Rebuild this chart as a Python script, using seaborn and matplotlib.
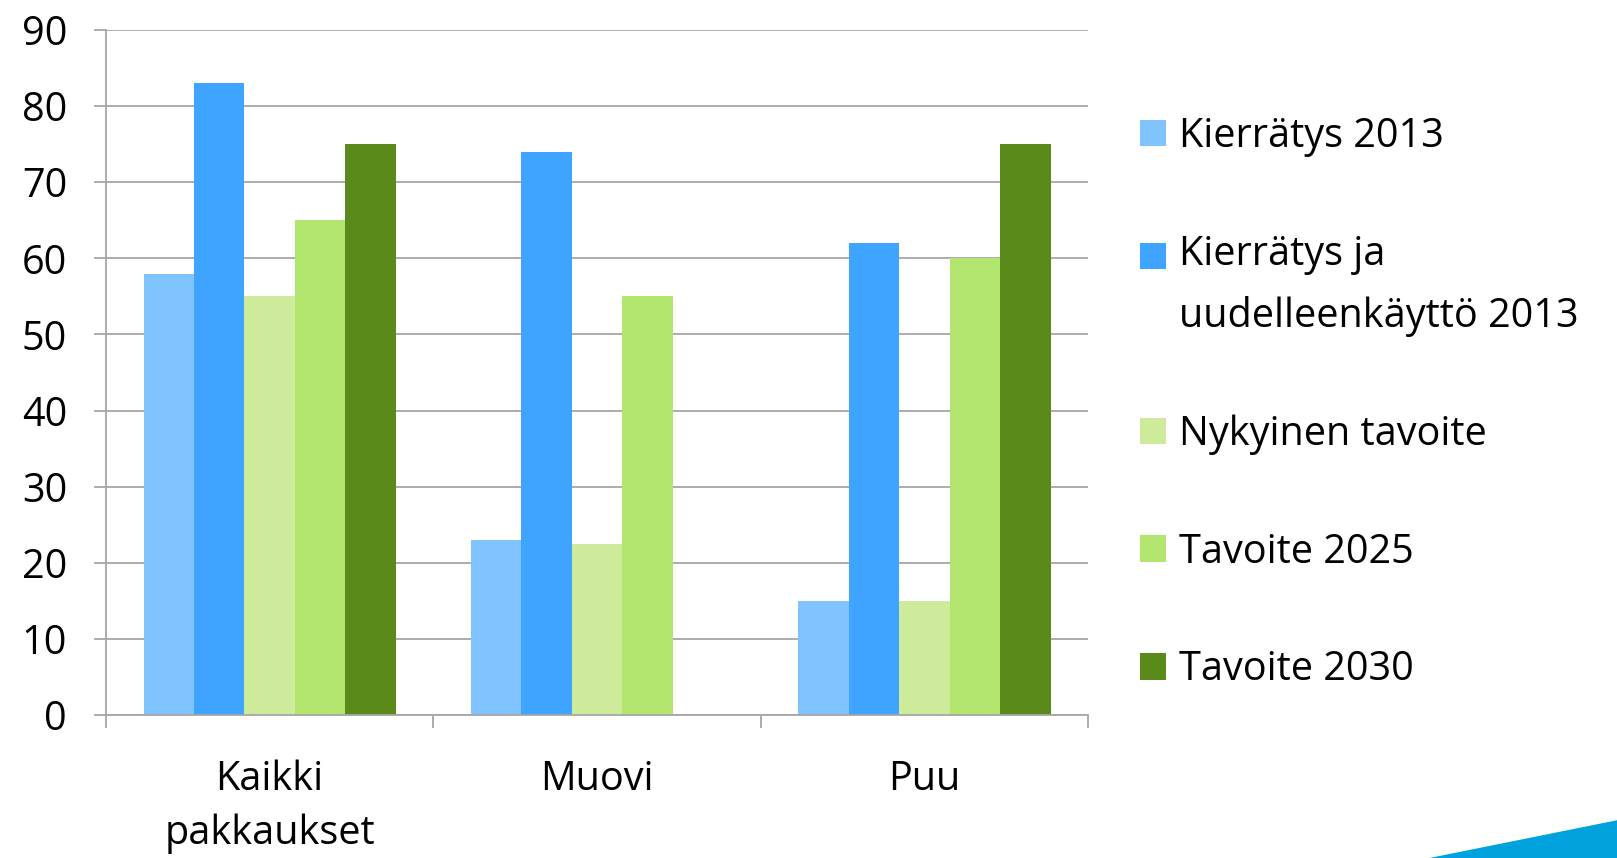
import numpy as np
import pandas as pd
import seaborn as sns
import matplotlib.pyplot as plt
from matplotlib.patches import Polygon

# Data
categories = ['Kaikki\npakkaukset', 'Muovi', 'Puu']
series = ['Kierrätys 2013', 'Kierrätys ja\nuudelleenkäyttö 2013',
          'Nykyinen tavoite', 'Tavoite 2025', 'Tavoite 2030']
kierratys_2013 = [58, 23, 15]
kierratys_uudelleen_2013 = [83, 74, 62]
nykyinen_tavoite = [55, 22.5, 15]
tavoite_2025 = [65, 55, 60]
tavoite_2030 = [75, np.nan, 75]
yticks = list(range(0, 100, 10))

colors = ['#7fc3ff', '#3fa4ff', '#cdeb9b', '#b1e56d', '#5a8b1a']

rows = []
for s, vals in zip(series, [kierratys_2013, kierratys_uudelleen_2013,
                            nykyinen_tavoite, tavoite_2025, tavoite_2030]):
    for c, v in zip(categories, vals):
        rows.append({'Kategoria': c, 'Sarja': s, 'Arvo': v})
df = pd.DataFrame(rows)

sns.set_theme(style="white")
plt.rcParams['font.family'] = ['Open Sans', 'DejaVu Sans']
plt.rcParams['text.color'] = 'black'

fs = 28.5

fig = plt.figure(figsize=(16.17, 8.58), dpi=100)
ax = fig.add_axes([0.0655, 0.1667, 0.6075, 0.7983])

sns.barplot(data=df, x='Kategoria', y='Arvo', hue='Sarja', order=categories,
            hue_order=series, palette=colors, width=0.77, gap=0,
            saturation=1, linewidth=0, ax=ax)

ax.set_xlim(-0.5, 2.5)
ax.set_ylim(0, 90)
ax.set_yticks(yticks)
ax.set_xlabel('')
ax.set_ylabel('')
ax.yaxis.grid(True, color='#a6a6a6', linewidth=1.3)
ax.set_axisbelow(True)
for side in ['top', 'right']:
    ax.spines[side].set_visible(False)
for side in ['left', 'bottom']:
    ax.spines[side].set_color('#a6a6a6')
    ax.spines[side].set_linewidth(1.3)

ax.tick_params(axis='y', which='major', length=9, width=1.3, color='#a6a6a6',
               labelcolor='black', labelsize=fs, pad=19, left=True)
ax.tick_params(axis='x', which='major', length=0, labelcolor='black',
               labelsize=fs, pad=32)
ax.set_xticks([-0.5, 0.5, 1.5, 2.5], minor=True)
ax.tick_params(axis='x', which='minor', length=9, width=1.3, color='#a6a6a6',
               bottom=True)
for lab in ax.get_xticklabels():
    lab.set_linespacing(1.45)

handles, labels = ax.get_legend_handles_labels()
leg = ax.legend(handles, labels, loc='center left', bbox_to_anchor=(1.053, 0.455),
                frameon=False, fontsize=fs, labelspacing=1.95, borderpad=0,
                borderaxespad=0, handlelength=0.65, handleheight=0.65,
                handletextpad=0.33)
for t in leg.get_texts():
    t.set_linespacing(1.7)
    t.set_color('black')
# square of the two-line entry sits beside its first line
leg.legend_handles[1].set_y(leg.legend_handles[1].get_y() + 0.78 * fs)

# decorative blue corner shape
fig.patches.append(Polygon([[0.884, 0.0], [1.0, 0.044], [1.0, 0.0]],
                           closed=True, transform=fig.transFigure,
                           facecolor='#00a2de', edgecolor='none'))

fig.savefig('out.png', dpi=100)
